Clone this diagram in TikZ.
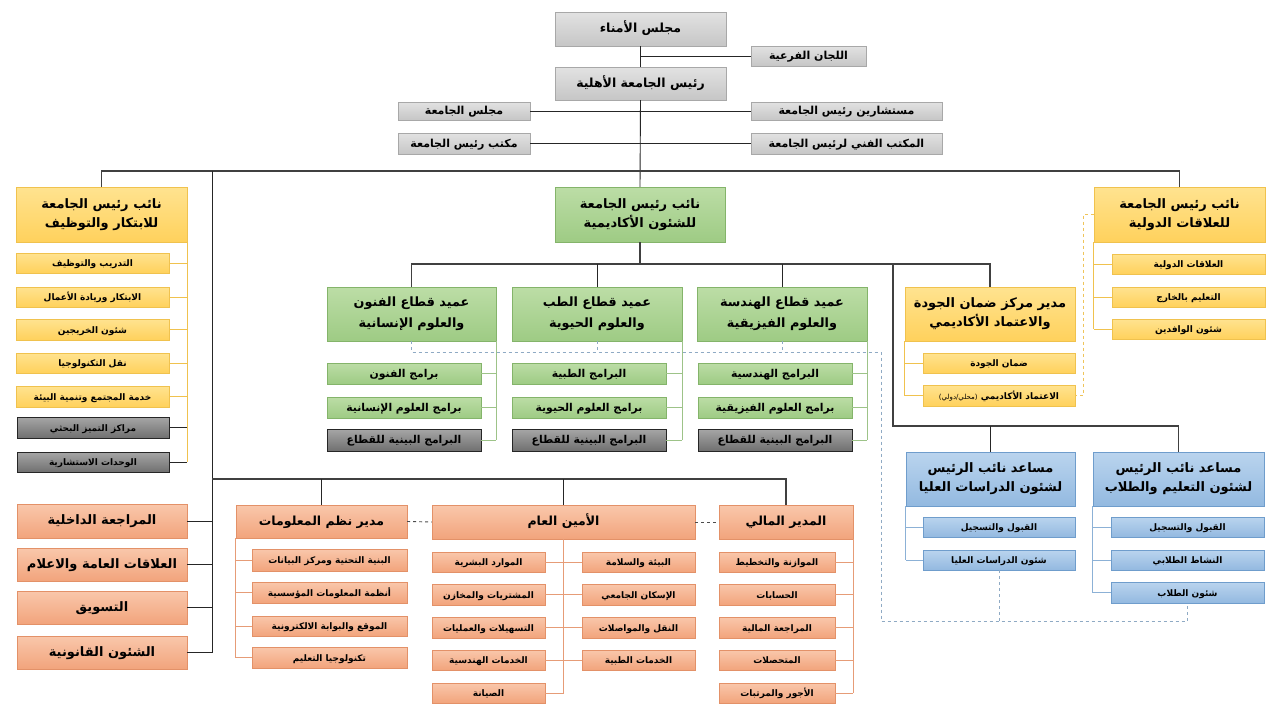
\documentclass[tikz,border=0pt]{standalone}
\usepackage{fontspec}
\setmainfont{DejaVu Sans}
\newfontfamily\arabicfont[Script=Arabic]{DejaVu Sans}
\TeXXeTstate=1
\usetikzlibrary{shadows}
\newcommand\artx[1]{\beginR #1\endR}
\newcommand\obox[7]{\node[#2,minimum width={(#5)-(#3)},minimum height={(#6)-(#4)}] (#1) at ({((#3)+(#5))/2},{((#4)+(#6))/2}) {#7};}
\definecolor{grayT}{HTML}{E2E2E2}
\definecolor{grayB}{HTML}{C6C6C6}
\definecolor{grayD}{HTML}{A8A8A8}
\definecolor{goldT}{HTML}{FFE390}
\definecolor{goldB}{HTML}{FFD15C}
\definecolor{goldD}{HTML}{F0C24E}
\definecolor{grnT}{HTML}{BCDDA6}
\definecolor{grnB}{HTML}{9ECB84}
\definecolor{grnD}{HTML}{84B46A}
\definecolor{dkT}{HTML}{A6A6A6}
\definecolor{dkB}{HTML}{707070}
\definecolor{bluT}{HTML}{BAD4EE}
\definecolor{bluB}{HTML}{93B9E0}
\definecolor{bluD}{HTML}{6F9DCC}
\definecolor{orT}{HTML}{F9C7AB}
\definecolor{orB}{HTML}{F2A47C}
\definecolor{orD}{HTML}{E39168}
\definecolor{bdash}{HTML}{8FAAC4}
\definecolor{ydashc}{HTML}{EFC45A}
\tikzset{
  bx/.style={draw, inner sep=1pt, align=center, text=black,
    drop shadow={opacity=0.22, shadow xshift=1.3pt, shadow yshift=-1.3pt}},
  gbox/.style={bx, top color=grayT, bottom color=grayB, draw=grayD},
  ybox/.style={bx, top color=goldT, bottom color=goldB, draw=goldD},
  grbox/.style={bx, top color=grnT, bottom color=grnB, draw=grnD},
  dkbox/.style={bx, top color=dkT, bottom color=dkB, draw=black!85},
  bbox/.style={bx, top color=bluT, bottom color=bluB, draw=bluD},
  obox/.style={bx, top color=orT, bottom color=orB, draw=orD},
  oneline/.style={text height=0.9em, text depth=0.12em},
  fA/.style={oneline, font=\arabicfont\bfseries\fontsize{12.5}{15}\selectfont},
  fB/.style={oneline, font=\arabicfont\bfseries\fontsize{11}{13}\selectfont},
  fV/.style={font=\arabicfont\bfseries\fontsize{13}{19}\selectfont},
  fD/.style={font=\arabicfont\bfseries\fontsize{12.8}{21}\selectfont},
  fP/.style={oneline, font=\arabicfont\bfseries\fontsize{10.8}{13}\selectfont},
  fS/.style={oneline, font=\arabicfont\bfseries\fontsize{9}{11}\selectfont},
  fO/.style={oneline, font=\arabicfont\bfseries\fontsize{13}{16}\selectfont},
  mainline/.style={draw=black!85, line width=0.9pt},
  busline/.style={draw=black!75, line width=1.3pt},
  yline/.style={draw=goldD, line width=0.8pt},
  gline/.style={draw=grnD!80, line width=0.8pt},
  bline/.style={draw=bluD!80, line width=0.8pt},
  oline/.style={draw=orD!90, line width=0.8pt},
  bdashed/.style={draw=bdash, line width=0.8pt, dashed},
  ydashed/.style={draw=ydashc, line width=0.8pt, dashed},
  kdashed/.style={draw=black!70, line width=0.9pt, dashed},
}
\begin{document}
\begin{tikzpicture}[x=1pt,y=-1pt]
\useasboundingbox (0,0) rectangle (1280,720);
\fill[white] (0,0) rectangle (1280,720);

% ---------- top ----------
\obox{amana}{gbox,fA}{555}{12}{726}{46}{\artx{مجلس الأمناء}}
\obox{lijan}{gbox,fB}{751}{46}{866}{66}{\artx{اللجان الفرعية}}
\obox{rais}{gbox,fA}{555}{67}{726}{100}{\artx{رئيس الجامعة الأهلية}}
\obox{majlis}{gbox,fB}{398}{102}{530}{120}{\artx{مجلس الجامعة}}
\obox{mostash}{gbox,fB}{751}{102}{942}{120}{\artx{مستشارين رئيس الجامعة}}
\obox{maktab}{gbox,fB}{398}{133}{530}{154}{\artx{مكتب رئيس الجامعة}}
\obox{fanni}{gbox,fB}{751}{133}{942}{154}{\artx{المكتب الفني لرئيس الجامعة}}

% ---------- VPs ----------
\obox{vpinn}{ybox,fV}{16}{187}{187}{242}{\artx{نائب رئيس الجامعة}\\\artx{للابتكار والتوظيف}}
\obox{acad}{grbox,fV}{555}{187}{725}{242}{\artx{نائب رئيس الجامعة}\\\artx{للشئون الأكاديمية}}
\obox{vpint}{ybox,fV}{1094}{187}{1265}{242}{\artx{نائب رئيس الجامعة}\\\artx{للعلاقات الدولية}}

% innovation subs
\obox{i1}{ybox,fS}{16}{253}{169}{273}{\artx{التدريب والتوظيف}}
\obox{i2}{ybox,fS}{16}{287}{169}{307}{\artx{الابتكار وريادة الأعمال}}
\obox{i3}{ybox,fS}{16}{319}{169}{340}{\artx{شئون الخريجين}}
\obox{i4}{ybox,fS}{16}{353}{169}{373}{\artx{نقل التكنولوجيا}}
\obox{i5}{ybox,fS}{16}{386}{169}{407}{\artx{خدمة المجتمع وتنمية البيئة}}
\obox{i6}{dkbox,fS}{17}{417}{169}{438}{\artx{مراكز التميز البحثي}}
\obox{i7}{dkbox,fS}{17}{452}{169}{472}{\artx{الوحدات الاستشارية}}

% deans
\obox{arts}{grbox,fD}{327}{287}{496}{341}{\artx{عميد قطاع الفنون}\\\artx{والعلوم الإنسانية}}
\obox{med}{grbox,fD}{512}{287}{682}{341}{\artx{عميد قطاع الطب}\\\artx{والعلوم الحيوية}}
\obox{eng}{grbox,fD}{697}{287}{867}{341}{\artx{عميد قطاع الهندسة}\\\artx{والعلوم الفيزيقية}}

\obox{a1}{grbox,fP}{327}{363}{481}{384}{\artx{برامج الفنون}}
\obox{a2}{grbox,fP}{327}{397}{481}{418}{\artx{برامج العلوم الإنسانية}}
\obox{a3}{dkbox,fP}{327}{429}{481}{451}{\artx{البرامج البينية للقطاع}}
\obox{m1}{grbox,fP}{512}{363}{666}{384}{\artx{البرامج الطبية}}
\obox{m2}{grbox,fP}{512}{397}{666}{418}{\artx{برامج العلوم الحيوية}}
\obox{m3}{dkbox,fP}{512}{429}{666}{451}{\artx{البرامج البينية للقطاع}}
\obox{e1}{grbox,fP}{698}{363}{852}{384}{\artx{البرامج الهندسية}}
\obox{e2}{grbox,fP}{698}{397}{852}{418}{\artx{برامج العلوم الفيزيقية}}
\obox{e3}{dkbox,fP}{698}{429}{852}{451}{\artx{البرامج البينية للقطاع}}

% quality
\obox{quality}{ybox,fV}{905}{287}{1075}{341}{\artx{مدير مركز ضمان الجودة}\\\artx{والاعتماد الأكاديمي}}
\obox{q1}{ybox,fS}{923}{353}{1075}{373}{\artx{ضمان الجودة}}
\obox{q2}{ybox,fS}{923}{385}{1075}{406}{\artx{الاعتماد الأكاديمي {\fontsize{7}{8}\selectfont\mdseries (محلي/دولي)}}}

% international subs
\obox{t1}{ybox,fS}{1112}{254}{1265}{274}{\artx{العلاقات الدولية}}
\obox{t2}{ybox,fS}{1112}{287}{1265}{307}{\artx{التعليم بالخارج}}
\obox{t3}{ybox,fS}{1112}{319}{1265}{339}{\artx{شئون الوافدين}}

% assistant VPs
\obox{grad}{bbox,fV}{906}{452}{1075}{506}{\artx{مساعد نائب الرئيس}\\\artx{لشئون الدراسات العليا}}
\obox{g1}{bbox,fS}{923}{517}{1075}{537}{\artx{القبول والتسجيل}}
\obox{g2}{bbox,fS}{923}{550}{1075}{570}{\artx{شئون الدراسات العليا}}
\obox{stud}{bbox,fV}{1093}{452}{1264}{506}{\artx{مساعد نائب الرئيس}\\\artx{لشئون التعليم والطلاب}}
\obox{s1}{bbox,fS}{1111}{517}{1264}{537}{\artx{القبول والتسجيل}}
\obox{s2}{bbox,fS}{1111}{550}{1264}{570}{\artx{النشاط الطلابي}}
\obox{s3}{bbox,fS}{1111}{582}{1264}{603}{\artx{شئون الطلاب}}

% bottom left
\obox{audit}{obox,fO}{17}{504}{187}{538}{\artx{المراجعة الداخلية}}
\obox{pr}{obox,fO}{17}{548}{187}{581}{\artx{العلاقات العامة والاعلام}}
\obox{mkt}{obox,fO}{17}{591}{187}{624}{\artx{التسويق}}
\obox{legal}{obox,fO}{17}{636}{187}{669}{\artx{الشئون القانونية}}

% IT
\obox{it}{obox,fA}{236}{505}{407}{538}{\artx{مدير نظم المعلومات}}
\obox{it1}{obox,fS}{252}{549}{407}{571}{\artx{البنية التحتية ومركز البيانات}}
\obox{it2}{obox,fS}{252}{582}{407}{603}{\artx{أنظمة المعلومات المؤسسية}}
\obox{it3}{obox,fS}{252}{616}{407}{636}{\artx{الموقع والبوابة الالكترونية}}
\obox{it4}{obox,fS}{252}{647}{407}{668}{\artx{تكنولوجيا التعليم}}

% general secretary
\obox{gs}{obox,fA}{432}{505}{695}{539}{\artx{الأمين العام}}
\obox{gl1}{obox,fS}{432}{552}{545}{572}{\artx{الموارد البشرية}}
\obox{gl2}{obox,fS}{432}{584}{545}{605}{\artx{المشتريات والمخازن}}
\obox{gl3}{obox,fS}{432}{617}{545}{638}{\artx{التسهيلات والعمليات}}
\obox{gl4}{obox,fS}{432}{650}{545}{670}{\artx{الخدمات الهندسية}}
\obox{gl5}{obox,fS}{432}{683}{545}{703}{\artx{الصيانة}}
\obox{gr1}{obox,fS}{582}{552}{695}{572}{\artx{البيئة والسلامة}}
\obox{gr2}{obox,fS}{582}{584}{695}{605}{\artx{الإسكان الجامعي}}
\obox{gr3}{obox,fS}{582}{617}{695}{638}{\artx{النقل والمواصلات}}
\obox{gr4}{obox,fS}{582}{650}{695}{670}{\artx{الخدمات الطبية}}

% CFO
\obox{cfo}{obox,fA}{719}{505}{853}{539}{\artx{المدير المالي}}
\obox{c1}{obox,fS}{719}{552}{835}{572}{\artx{الموازنة والتخطيط}}
\obox{c2}{obox,fS}{719}{584}{835}{605}{\artx{الحسابات}}
\obox{c3}{obox,fS}{719}{617}{835}{638}{\artx{المراجعة المالية}}
\obox{c4}{obox,fS}{719}{650}{835}{670}{\artx{المتحصلات}}
\obox{c5}{obox,fS}{719}{683}{835}{703}{\artx{الأجور والمرتبات}}

% ---------- connectors ----------
\draw[mainline] (amana.south) -- (rais.north);
\draw[mainline] (amana.south |- lijan.west) -- (lijan.west);
\draw[mainline] (majlis.east) -- (mostash.west);
\draw[mainline] (maktab.east) -- (fanni.west);
\draw[mainline] (rais.south) -- (acad.north);

\coordinate (bus) at (640,171);
\draw[busline] (vpinn.north) -- (vpinn.north |- bus) -- (vpint.north |- bus) -- (vpint.north);
\coordinate (lv) at (212,171);
\draw[mainline] (lv) -- (lv |- legal.east);
\foreach \n in {audit,pr,mkt,legal} \draw[mainline] (\n.east) -- (\n.east -| lv);

\coordinate (bbus) at (212,479);
\draw[busline] (bbus) -- (cfo.north |- bbus) -- (cfo.north);
\draw[mainline] (it.north |- bbus) -- (it.north);
\draw[mainline] (gs.north |- bbus) -- (gs.north);

\coordinate (abus) at (640,264);
\draw[busline] (acad.south) -- (abus);
\draw[busline] (arts.north) -- (arts.north |- abus) -- (quality.north |- abus) -- (quality.north);
\draw[mainline] (med.north) -- (med.north |- abus);
\draw[mainline] (eng.north) -- (eng.north |- abus);
\coordinate (av) at (893,264);
\coordinate (av2) at (893,426);
\draw[busline] (av) -- (av2) -- (stud.north |- av2) -- (stud.north);
\draw[mainline] (grad.north) -- (grad.north |- av2);

% innovation
\draw[yline] (vpinn.south east) -- (vpinn.south east |- i7.east);
\foreach \n in {i1,i2,i3,i4,i5} \draw[yline] (\n.east) -- (\n.east -| vpinn.south east);
\foreach \n in {i6,i7} \draw[mainline] (\n.east) -- (\n.east -| vpinn.south east);

% deans programs
\draw[gline] (arts.south east) -- (arts.south east |- a3.east);
\foreach \n in {a1,a2,a3} \draw[gline] (\n.east) -- (\n.east -| arts.south east);
\draw[gline] (med.south east) -- (med.south east |- m3.east);
\foreach \n in {m1,m2,m3} \draw[gline] (\n.east) -- (\n.east -| med.south east);
\draw[gline] (eng.south east) -- (eng.south east |- e3.east);
\foreach \n in {e1,e2,e3} \draw[gline] (\n.east) -- (\n.east -| eng.south east);

% quality
\draw[yline] (quality.south west) -- (quality.south west |- q2.west);
\foreach \n in {q1,q2} \draw[yline] (\n.west) -- (\n.west -| quality.south west);
% international
\draw[yline] (vpint.south west) -- (vpint.south west |- t3.west);
\foreach \n in {t1,t2,t3} \draw[yline] (\n.west) -- (\n.west -| vpint.south west);
\coordinate (yd) at (1083,214);
\draw[ydashed] (vpint.west) -- (vpint.west -| yd) -- (yd |- q2.east) -- (q2.east);

% assistant VPs
\draw[bline] (grad.south west) -- (grad.south west |- g2.west);
\foreach \n in {g1,g2} \draw[bline] (\n.west) -- (\n.west -| grad.south west);
\draw[bline] (stud.south west) -- (stud.south west |- s3.west);
\foreach \n in {s1,s2,s3} \draw[bline] (\n.west) -- (\n.west -| stud.south west);

% blue dashed
\coordinate (bd1) at (881,352);
\coordinate (bd2) at (881,621);
\draw[bdashed] (arts.south) -- (arts.south |- bd1) -- (bd1) -- (bd2) -- (s3.south |- bd2) -- (s3.south);
\draw[bdashed] (med.south) -- (med.south |- bd1);
\draw[bdashed] (eng.south) -- (eng.south |- bd1);
\draw[bdashed] (g2.south) -- (g2.south |- bd2);

% IT
\draw[oline] (it.south west) -- (it.south west |- it4.west);
\foreach \n in {it1,it2,it3,it4} \draw[oline] (\n.west) -- (\n.west -| it.south west);
% GS
\draw[oline] (gs.south) -- (gs.south |- gl5.east);
\foreach \n in {gl1,gl2,gl3,gl4,gl5} \draw[oline] (\n.east) -- (\n.east -| gs.south);
\foreach \n in {gr1,gr2,gr3,gr4} \draw[oline] (\n.west) -- (\n.west -| gs.south);
% CFO
\draw[oline] (cfo.south east) -- (cfo.south east |- c5.east);
\foreach \n in {c1,c2,c3,c4,c5} \draw[oline] (\n.east) -- (\n.east -| cfo.south east);

\draw[kdashed] (it.east) -- (gs.west);
\draw[kdashed] (gs.east) -- (cfo.west);
\end{tikzpicture}
\end{document}
